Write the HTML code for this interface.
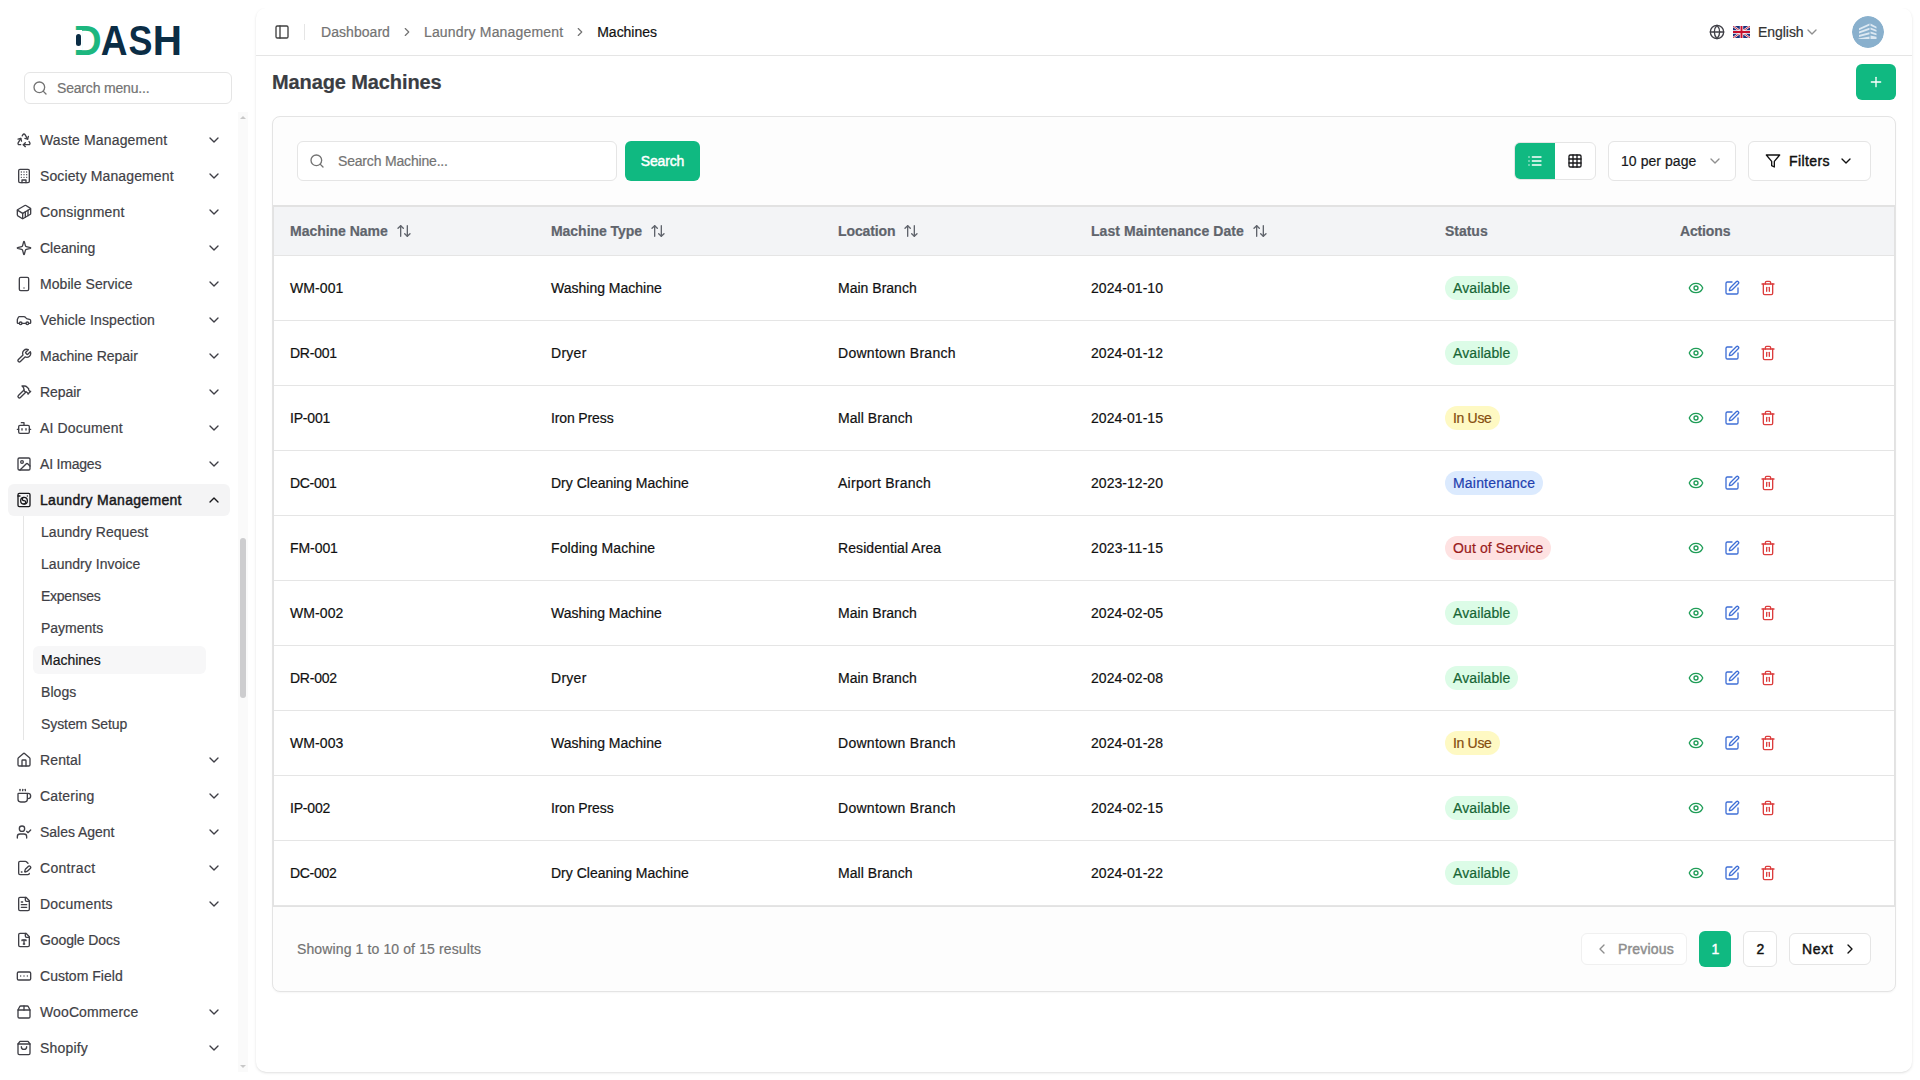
<!DOCTYPE html>
<html lang="en">
<head>
<meta charset="utf-8">
<title>Manage Machines</title>
<style>
*{box-sizing:border-box;margin:0;padding:0}
html,body{width:1920px;height:1080px;overflow:hidden;background:#fff;font-family:"Liberation Sans",sans-serif}
body{font-family:"Liberation Sans",sans-serif;font-size:14px;color:#111111;position:relative;-webkit-font-smoothing:antialiased;-webkit-text-stroke-width:.2px}
.ic{display:block;flex:none}
/* sidebar */
.sb{position:absolute;left:0;top:0;width:256px;height:1080px;background:#fff}
.logo{position:absolute;left:70px;top:20px;width:130px;height:40px;white-space:nowrap;font-weight:700;font-size:43px;line-height:40px;color:#0b2d45;-webkit-text-stroke-width:0}
.logo span{display:inline-block;transform-origin:0 50%;vertical-align:top;height:40px}
.logo i{position:absolute;z-index:1}
.logo .k{left:5px;top:10.2px;width:6.7px;height:19.8px;background:#fff}
.logo .p{left:6px;top:14.1px;width:5px;height:11.6px;border-radius:2.5px;background:#0b2d45}
.sbsearch{position:absolute;left:24px;top:72px;width:208px;height:32px;border:1px solid #e5e5e5;border-radius:6px;background:#fff;display:flex;align-items:center;color:#6b7280}
.sbsearch .ic{margin-left:7px;color:#737373}
.sbsearch span{margin-left:9px;font-size:14px;color:#737373}
.menu{position:absolute;left:0;top:0;width:240px;height:1080px;overflow:hidden}
.mi{position:absolute;left:8px;width:222px;height:32px;border-radius:6px;display:flex;align-items:center;color:#3f3f46}
.mi .mic{margin-left:8px}
.mi .ml{margin-left:8px;white-space:nowrap;flex:1}
.mi .chev{margin-right:8px}
.mi.act{background:#f4f4f5;color:#18181b}

.subline{position:absolute;left:23px;width:1px;background:#e5e5e5}
.si{position:absolute;left:33px;width:173px;height:28px;border-radius:6px;display:flex;align-items:center;color:#3f3f46}
.si span{margin-left:8px;white-space:nowrap}
.si.act{background:#f7f7f8;color:#18181b}
.scroll{position:absolute;left:238px;top:112px;width:10px;height:960px;background:#fafafa}
.scroll .thumb{position:absolute;left:2px;top:426px;width:6px;height:160px;background:#cdcdcf;border-radius:3px}
.scroll .up{position:absolute;left:2px;top:4px;border:3px solid transparent;border-bottom:3px solid #c8c8c8;border-top:0}
.scroll .dn{position:absolute;left:2px;bottom:4px;border:3px solid transparent;border-top:3px solid #c8c8c8;border-bottom:0}
/* main */
.main{position:absolute;left:256px;top:8px;width:1656px;height:1064px;background:#fff;border-radius:10px;box-shadow:0 1px 3px 0 rgba(0,0,0,.1),0 1px 2px -1px rgba(0,0,0,.1);clip-path:inset(0 -6px -6px -6px)}
.hd{position:absolute;left:0;top:0;width:1656px;height:48px;border-bottom:1px solid #e5e5e5}
.tog{position:absolute;left:18px;top:16px;color:#404040}
.sep{position:absolute;left:48px;top:16px;width:1px;height:16px;background:#e5e5e5}
.bc{position:absolute;left:65px;top:0;height:48px;display:flex;align-items:center;color:#737373;white-space:nowrap}
.bc .bcc{margin:0 10px;color:#737373}
.bc .b3{color:#111111}
.lang{position:absolute;left:1453px;top:16px;height:16px;display:flex;align-items:center;color:#27272a}
.lang .gl{color:#3f3f46}
.lang .flag{margin-left:8px}
.lang .lt{margin-left:8px;font-size:14px;color:#333;white-space:nowrap}
.lang .lc{color:#8f8f8f;margin-left:0}
.av{position:absolute;left:1596px;top:8px;width:32px;height:32px;border-radius:50%;overflow:hidden}
.ttl{position:absolute;left:16px;top:60px;font-size:20px;line-height:28px;font-weight:700;color:#3a3d43;white-space:nowrap}
.add{position:absolute;left:1600px;top:56px;width:40px;height:36px;border-radius:6px;background:#10b981;color:#fff;display:flex;align-items:center;justify-content:center}
.card{position:absolute;left:16px;top:108px;width:1624px;height:876px;border:1px solid #e4e4e4;border-radius:8px;background:#fdfdfd;box-shadow:0 1px 2px rgba(0,0,0,.04)}
.srch{position:absolute;left:24px;top:24px;width:320px;height:40px;border:1px solid #e5e5e5;border-radius:6px;background:#fff;display:flex;align-items:center;color:#6b7280}
.srch .ic{margin-left:11px;color:#737373}
.srch span{margin-left:13px;color:#737373}
.sbtn{position:absolute;left:352px;top:24px;width:75px;height:40px;border-radius:6px;background:#10b981;color:#fff;display:flex;align-items:center;justify-content:center}
.vt{position:absolute;left:1241px;top:25px;width:82px;height:38px;border:1px solid #e5e5e5;border-radius:6px;background:#fff;display:flex;overflow:hidden}
.vt span{width:40px;height:36px;display:flex;align-items:center;justify-content:center;color:#18181b}
.vt .v1{background:#10b981;color:#fff}
.pp{position:absolute;left:1335px;top:24px;width:128px;height:40px;border:1px solid #e5e5e5;border-radius:6px;background:#fff;display:flex;align-items:center;justify-content:space-between;padding:0 12px;color:#18181b}
.pp .ic{color:#8f8f8f}
.fl{position:absolute;left:1475px;top:24px;width:123px;height:40px;border:1px solid #e5e5e5;border-radius:6px;background:#fff;display:flex;align-items:center;padding:0 16px;color:#111}
.fl span{margin-left:8px;flex:1}
.tbl{position:absolute;left:0;top:88px;width:1622px;height:702px;border:1px solid #e2e2e2;background:#fff}
.th{position:relative;height:50px;background:#f3f4f6;border-bottom:1px solid #e5e5e5;border-top:1px solid #e2e2e2;font-weight:700;color:#60646c}
.tr{position:relative;height:65px;border-bottom:1px solid #e5e5e5;color:#111111}
.th>div,.tr>div{position:absolute;top:0;height:100%;display:flex;align-items:center;white-space:nowrap}
.c1{left:16px}.c2{left:277px}.c3{left:564px}.c4{left:817px}.c5{left:1171px}.c6{left:1406px}
.th .so{margin-left:8px;color:#60646c}
.bd{display:inline-flex;align-items:center;height:24px;padding:0 8px;border-radius:12px;font-size:14px}
.bd.g{background:#dcfce7;color:#166534}
.bd.y{background:#fef9c3;color:#854d0e}
.bd.b{background:#dbeafe;color:#1e40af}
.bd.r{background:#fee2e2;color:#991b1b}
.c6 .ae{color:#1f9d57;margin-left:8px}
.c6 .ad{color:#3f6fd6;margin-left:20px}
.c6 .at{color:#dc3d3d;margin-left:20px}
.ft{position:absolute;left:0;top:790px;width:1622px;height:85px}
.ft .res{position:absolute;left:24px;top:-1px;height:85px;display:flex;align-items:center;color:#737373;white-space:nowrap}
.pv,.nx,.p1,.p2{position:absolute;display:flex;align-items:center;justify-content:center;border-radius:6px}
.pv{left:1308px;top:26px;width:106px;height:32px;justify-content:flex-start;padding-left:12px;border:1px solid #f0f0f0;color:#8e8e8e;background:#fff}
.pv span{margin-left:8px}
.p1{left:1426px;top:24px;width:32px;height:36px;padding-left:1px;background:#10b981;color:#fff}
.p2{left:1470px;top:24px;width:34px;height:36px;padding-left:1px;border:1px solid #e5e5e5;background:#fff;color:#111}
.nx{left:1516px;top:26px;width:82px;height:32px;justify-content:flex-start;padding-left:12px;border:1px solid #e5e5e5;color:#111;background:#fff}
.nx span{margin-right:9px}
.md{font-weight:400;-webkit-text-stroke-width:.45px}
</style>
</head>
<body>
<aside class="sb">
<div class="logo"><span style="color:#1db77f;transform:translateX(3.33px) scaleX(.9137)">D</span><span style="transform:translateX(-.16px) scaleX(.8626)">A</span><span style="transform:translateX(-3.49px) scaleX(.835)">S</span><span style="transform:translateX(-8.27px) scaleX(.9426)">H</span><i class="k"></i><i class="p"></i></div>
<div class="sbsearch"><svg class="ic " width="16" height="16" viewBox="0 0 24 24" fill="none" stroke="currentColor" stroke-width="2" stroke-linecap="round" stroke-linejoin="round"><circle cx="11" cy="11" r="8"/><path d="m21 21-4.3-4.3"/></svg><span style="letter-spacing:-0.18px">Search menu...</span></div>
<nav class="menu">
<div class="mi" style="top:124px"><svg class="ic mic" width="16" height="16" viewBox="0 0 24 24" fill="none" stroke="currentColor" stroke-width="2" stroke-linecap="round" stroke-linejoin="round"><path d="M7 19H4.815a1.83 1.83 0 0 1-1.57-.881 1.785 1.785 0 0 1-.004-1.784L7.196 9.5"/><path d="M11 19h8.203a1.83 1.83 0 0 0 1.556-.89 1.784 1.784 0 0 0 0-1.775l-1.226-2.12"/><path d="m14 16-3 3 3 3"/><path d="M8.293 13.596 7.196 9.5 3.1 10.598"/><path d="m9.344 5.811 1.093-1.892A1.83 1.83 0 0 1 11.985 3a1.784 1.784 0 0 1 1.546.888l3.943 6.843"/><path d="m13.378 9.633 4.096 1.098 1.097-4.096"/></svg><span class="ml" style="letter-spacing:0.16px">Waste Management</span><svg class="ic chev" width="16" height="16" viewBox="0 0 24 24" fill="none" stroke="currentColor" stroke-width="2" stroke-linecap="round" stroke-linejoin="round"><path d="m6 9 6 6 6-6"/></svg></div>
<div class="mi" style="top:160px"><svg class="ic mic" width="16" height="16" viewBox="0 0 24 24" fill="none" stroke="currentColor" stroke-width="2" stroke-linecap="round" stroke-linejoin="round"><rect width="16" height="20" x="4" y="2" rx="2" ry="2"/><path d="M9 22v-4h6v4"/><path d="M8 6h.01"/><path d="M16 6h.01"/><path d="M12 6h.01"/><path d="M12 10h.01"/><path d="M12 14h.01"/><path d="M16 10h.01"/><path d="M16 14h.01"/><path d="M8 10h.01"/><path d="M8 14h.01"/></svg><span class="ml" style="letter-spacing:0.12px">Society Management</span><svg class="ic chev" width="16" height="16" viewBox="0 0 24 24" fill="none" stroke="currentColor" stroke-width="2" stroke-linecap="round" stroke-linejoin="round"><path d="m6 9 6 6 6-6"/></svg></div>
<div class="mi" style="top:196px"><svg class="ic mic" width="16" height="16" viewBox="0 0 24 24" fill="none" stroke="currentColor" stroke-width="2" stroke-linecap="round" stroke-linejoin="round"><path d="M22 7.7c0-.6-.4-1.200-.8-1.500l-6.300-3.900a1.720 1.720 0 0 0-1.700 0l-10.300 6c-.5.200-.9.800-.9 1.400v6.600c0 .5.400 1.200.8 1.500l6.300 3.900a1.720 1.720 0 0 0 1.700 0l10.300-6c.5-.3.900-1 .9-1.500Z"/><path d="M10 21.900V14L2.100 9.100"/><path d="m10 14 11.900-6.900"/><path d="M14 19.800v-8.100"/><path d="M18 17.500V9.400"/></svg><span class="ml" style="letter-spacing:0.18px">Consignment</span><svg class="ic chev" width="16" height="16" viewBox="0 0 24 24" fill="none" stroke="currentColor" stroke-width="2" stroke-linecap="round" stroke-linejoin="round"><path d="m6 9 6 6 6-6"/></svg></div>
<div class="mi" style="top:232px"><svg class="ic mic" width="16" height="16" viewBox="0 0 24 24" fill="none" stroke="currentColor" stroke-width="2" stroke-linecap="round" stroke-linejoin="round"><path d="M9.937 15.5A2 2 0 0 0 8.5 14.063l-6.135-1.582a.5.5 0 0 1 0-.962L8.5 9.936A2 2 0 0 0 9.937 8.5l1.582-6.135a.5.5 0 0 1 .963 0L14.063 8.5A2 2 0 0 0 15.5 9.937l6.135 1.581a.5.5 0 0 1 0 .964L15.5 14.063a2 2 0 0 0-1.437 1.437l-1.582 6.135a.5.5 0 0 1-.963 0z"/></svg><span class="ml">Cleaning</span><svg class="ic chev" width="16" height="16" viewBox="0 0 24 24" fill="none" stroke="currentColor" stroke-width="2" stroke-linecap="round" stroke-linejoin="round"><path d="m6 9 6 6 6-6"/></svg></div>
<div class="mi" style="top:268px"><svg class="ic mic" width="16" height="16" viewBox="0 0 24 24" fill="none" stroke="currentColor" stroke-width="2" stroke-linecap="round" stroke-linejoin="round"><rect width="14" height="20" x="5" y="2" rx="2" ry="2"/><path d="M12 18h.01"/></svg><span class="ml" style="letter-spacing:0.06px">Mobile Service</span><svg class="ic chev" width="16" height="16" viewBox="0 0 24 24" fill="none" stroke="currentColor" stroke-width="2" stroke-linecap="round" stroke-linejoin="round"><path d="m6 9 6 6 6-6"/></svg></div>
<div class="mi" style="top:304px"><svg class="ic mic" width="16" height="16" viewBox="0 0 24 24" fill="none" stroke="currentColor" stroke-width="2" stroke-linecap="round" stroke-linejoin="round"><path d="M19 17h2c.6 0 1-.4 1-1v-3c0-.9-.7-1.7-1.5-1.9C18.7 10.6 16 10 16 10s-1.3-1.4-2.2-2.3c-.5-.4-1.1-.7-1.8-.7H5c-.6 0-1.1.4-1.4.9l-1.4 2.9A3.7 3.7 0 0 0 2 12v4c0 .6.4 1 1 1h2"/><circle cx="7" cy="17" r="2"/><path d="M9 17h6"/><circle cx="17" cy="17" r="2"/></svg><span class="ml" style="letter-spacing:0.12px">Vehicle Inspection</span><svg class="ic chev" width="16" height="16" viewBox="0 0 24 24" fill="none" stroke="currentColor" stroke-width="2" stroke-linecap="round" stroke-linejoin="round"><path d="m6 9 6 6 6-6"/></svg></div>
<div class="mi" style="top:340px"><svg class="ic mic" width="16" height="16" viewBox="0 0 24 24" fill="none" stroke="currentColor" stroke-width="2" stroke-linecap="round" stroke-linejoin="round"><path d="M14.7 6.3a1 1 0 0 0 0 1.4l1.6 1.6a1 1 0 0 0 1.4 0l3.77-3.77a6 6 0 0 1-7.94 7.94l-6.91 6.91a2.12 2.12 0 0 1-3-3l6.91-6.91a6 6 0 0 1 7.94-7.94l-3.76 3.76z"/></svg><span class="ml" style="letter-spacing:-0.02px">Machine Repair</span><svg class="ic chev" width="16" height="16" viewBox="0 0 24 24" fill="none" stroke="currentColor" stroke-width="2" stroke-linecap="round" stroke-linejoin="round"><path d="m6 9 6 6 6-6"/></svg></div>
<div class="mi" style="top:376px"><svg class="ic mic" width="16" height="16" viewBox="0 0 24 24" fill="none" stroke="currentColor" stroke-width="2" stroke-linecap="round" stroke-linejoin="round"><path d="m15 12-8.373 8.373a1 1 0 1 1-3-3L12 9"/><path d="m18 15 4-4"/><path d="m21.5 11.5-1.914-1.914A2 2 0 0 1 19 8.172V7l-2.26-2.26a6 6 0 0 0-4.202-1.756L9 2.96l.92.82A6.18 6.18 0 0 1 12 8.4V10l2 2h1.172a2 2 0 0 1 1.414.586L18.5 14.5"/></svg><span class="ml" style="letter-spacing:-0.05px">Repair</span><svg class="ic chev" width="16" height="16" viewBox="0 0 24 24" fill="none" stroke="currentColor" stroke-width="2" stroke-linecap="round" stroke-linejoin="round"><path d="m6 9 6 6 6-6"/></svg></div>
<div class="mi" style="top:412px"><svg class="ic mic" width="16" height="16" viewBox="0 0 24 24" fill="none" stroke="currentColor" stroke-width="2" stroke-linecap="round" stroke-linejoin="round"><path d="M12 8V4H8"/><rect width="16" height="12" x="4" y="8" rx="2"/><path d="M2 14h2"/><path d="M20 14h2"/><path d="M15 13v2"/><path d="M9 13v2"/></svg><span class="ml" style="letter-spacing:0.16px">AI Document</span><svg class="ic chev" width="16" height="16" viewBox="0 0 24 24" fill="none" stroke="currentColor" stroke-width="2" stroke-linecap="round" stroke-linejoin="round"><path d="m6 9 6 6 6-6"/></svg></div>
<div class="mi" style="top:448px"><svg class="ic mic" width="16" height="16" viewBox="0 0 24 24" fill="none" stroke="currentColor" stroke-width="2" stroke-linecap="round" stroke-linejoin="round"><rect width="18" height="18" x="3" y="3" rx="2" ry="2"/><circle cx="9" cy="9" r="2"/><path d="m21 15-3.086-3.086a2 2 0 0 0-2.828 0L6 21"/></svg><span class="ml" style="letter-spacing:-0.2px">AI Images</span><svg class="ic chev" width="16" height="16" viewBox="0 0 24 24" fill="none" stroke="currentColor" stroke-width="2" stroke-linecap="round" stroke-linejoin="round"><path d="m6 9 6 6 6-6"/></svg></div>
<div class="mi act" style="top:484px"><svg class="ic mic" width="16" height="16" viewBox="0 0 24 24" fill="none" stroke="currentColor" stroke-width="2" stroke-linecap="round" stroke-linejoin="round"><path d="M3 6h3"/><path d="M17 6h.01"/><rect width="18" height="20" x="3" y="2" rx="2"/><circle cx="12" cy="13" r="5"/><path d="M12 18a2.5 2.5 0 0 0 0-5 2.5 2.5 0 0 1 0-5"/></svg><span class="ml md" style="letter-spacing:0.31px">Laundry Management</span><svg class="ic chev" width="16" height="16" viewBox="0 0 24 24" fill="none" stroke="currentColor" stroke-width="2" stroke-linecap="round" stroke-linejoin="round"><path d="m18 15-6-6-6 6"/></svg></div>
<div class="subline" style="top:516px;height:224px"></div>
<div class="si" style="top:518px"><span style="letter-spacing:0.04px">Laundry Request</span></div>
<div class="si" style="top:550px"><span style="letter-spacing:0.03px">Laundry Invoice</span></div>
<div class="si" style="top:582px"><span style="letter-spacing:-0.25px">Expenses</span></div>
<div class="si" style="top:614px"><span>Payments</span></div>
<div class="si act" style="top:646px"><span style="letter-spacing:-0.02px">Machines</span></div>
<div class="si" style="top:678px"><span style="letter-spacing:0.05px">Blogs</span></div>
<div class="si" style="top:710px"><span style="letter-spacing:-0.08px">System Setup</span></div>
<div class="mi" style="top:744px"><svg class="ic mic" width="16" height="16" viewBox="0 0 24 24" fill="none" stroke="currentColor" stroke-width="2" stroke-linecap="round" stroke-linejoin="round"><path d="M15 21v-8a1 1 0 0 0-1-1h-4a1 1 0 0 0-1 1v8"/><path d="M3 10a2 2 0 0 1 .709-1.528l7-5.999a2 2 0 0 1 2.582 0l7 5.999A2 2 0 0 1 21 10v9a2 2 0 0 1-2 2H5a2 2 0 0 1-2-2z"/></svg><span class="ml" style="letter-spacing:0.12px">Rental</span><svg class="ic chev" width="16" height="16" viewBox="0 0 24 24" fill="none" stroke="currentColor" stroke-width="2" stroke-linecap="round" stroke-linejoin="round"><path d="m6 9 6 6 6-6"/></svg></div>
<div class="mi" style="top:780px"><svg class="ic mic" width="16" height="16" viewBox="0 0 24 24" fill="none" stroke="currentColor" stroke-width="2" stroke-linecap="round" stroke-linejoin="round"><path d="M10 2v2"/><path d="M14 2v2"/><path d="M16 8a1 1 0 0 1 1 1v8a4 4 0 0 1-4 4H7a4 4 0 0 1-4-4V9a1 1 0 0 1 1-1h14a4 4 0 1 1 0 8h-1"/><path d="M6 2v2"/></svg><span class="ml" style="letter-spacing:0.18px">Catering</span><svg class="ic chev" width="16" height="16" viewBox="0 0 24 24" fill="none" stroke="currentColor" stroke-width="2" stroke-linecap="round" stroke-linejoin="round"><path d="m6 9 6 6 6-6"/></svg></div>
<div class="mi" style="top:816px"><svg class="ic mic" width="16" height="16" viewBox="0 0 24 24" fill="none" stroke="currentColor" stroke-width="2" stroke-linecap="round" stroke-linejoin="round"><path d="m16 11 2 2 4-4"/><path d="M16 21v-2a4 4 0 0 0-4-4H6a4 4 0 0 0-4 4v2"/><circle cx="9" cy="7" r="4"/></svg><span class="ml" style="letter-spacing:-0.03px">Sales Agent</span><svg class="ic chev" width="16" height="16" viewBox="0 0 24 24" fill="none" stroke="currentColor" stroke-width="2" stroke-linecap="round" stroke-linejoin="round"><path d="m6 9 6 6 6-6"/></svg></div>
<div class="mi" style="top:852px"><svg class="ic mic" width="16" height="16" viewBox="0 0 24 24" fill="none" stroke="currentColor" stroke-width="2" stroke-linecap="round" stroke-linejoin="round"><path d="m18 5-2.414-2.414A2 2 0 0 0 14.172 2H6a2 2 0 0 0-2 2v16a2 2 0 0 0 2 2h12a2 2 0 0 0 2-2"/><path d="M21.378 12.626a1 1 0 0 0-3.004-3.004l-4.010 4.012a2 2 0 0 0-.506.854l-.837 2.870a.5.500 0 0 0 .620.620l2.870-.837a2 2 0 0 0 .854-.506z"/><path d="M8 18h1"/></svg><span class="ml" style="letter-spacing:0.31px">Contract</span><svg class="ic chev" width="16" height="16" viewBox="0 0 24 24" fill="none" stroke="currentColor" stroke-width="2" stroke-linecap="round" stroke-linejoin="round"><path d="m6 9 6 6 6-6"/></svg></div>
<div class="mi" style="top:888px"><svg class="ic mic" width="16" height="16" viewBox="0 0 24 24" fill="none" stroke="currentColor" stroke-width="2" stroke-linecap="round" stroke-linejoin="round"><path d="M15 2H6a2 2 0 0 0-2 2v16a2 2 0 0 0 2 2h12a2 2 0 0 0 2-2V7Z"/><path d="M14 2v4a2 2 0 0 0 2 2h4"/><path d="M10 9H8"/><path d="M16 13H8"/><path d="M16 17H8"/></svg><span class="ml" style="letter-spacing:0.22px">Documents</span><svg class="ic chev" width="16" height="16" viewBox="0 0 24 24" fill="none" stroke="currentColor" stroke-width="2" stroke-linecap="round" stroke-linejoin="round"><path d="m6 9 6 6 6-6"/></svg></div>
<div class="mi" style="top:924px"><svg class="ic mic" width="16" height="16" viewBox="0 0 24 24" fill="none" stroke="currentColor" stroke-width="2" stroke-linecap="round" stroke-linejoin="round"><path d="M15 2H6a2 2 0 0 0-2 2v16a2 2 0 0 0 2 2h12a2 2 0 0 0 2-2V7Z"/><path d="M14 2v4a2 2 0 0 0 2 2h4"/><path d="M9 13v-1h6v1"/><path d="M12 12v6"/><path d="M11 18h2"/></svg><span class="ml" style="letter-spacing:-0.1px">Google Docs</span></div>
<div class="mi" style="top:960px"><svg class="ic mic" width="16" height="16" viewBox="0 0 24 24" fill="none" stroke="currentColor" stroke-width="2" stroke-linecap="round" stroke-linejoin="round"><rect width="20" height="12" x="2" y="6" rx="2"/><path d="M12 12h.01"/><path d="M17 12h.01"/><path d="M7 12h.01"/></svg><span class="ml" style="letter-spacing:0.02px">Custom Field</span></div>
<div class="mi" style="top:996px"><svg class="ic mic" width="16" height="16" viewBox="0 0 24 24" fill="none" stroke="currentColor" stroke-width="2" stroke-linecap="round" stroke-linejoin="round"><path d="M3 9h18v10a2 2 0 0 1-2 2H5a2 2 0 0 1-2-2V9Z"/><path d="m3 9 2.45-4.9A2 2 0 0 1 7.24 3h9.52a2 2 0 0 1 1.8 1.1L21 9"/><path d="M12 3v6"/></svg><span class="ml" style="letter-spacing:0.12px">WooCommerce</span><svg class="ic chev" width="16" height="16" viewBox="0 0 24 24" fill="none" stroke="currentColor" stroke-width="2" stroke-linecap="round" stroke-linejoin="round"><path d="m6 9 6 6 6-6"/></svg></div>
<div class="mi" style="top:1032px"><svg class="ic mic" width="16" height="16" viewBox="0 0 24 24" fill="none" stroke="currentColor" stroke-width="2" stroke-linecap="round" stroke-linejoin="round"><path d="M6 2 3 6v14a2 2 0 0 0 2 2h14a2 2 0 0 0 2-2V6l-3-4Z"/><path d="M3 6h18"/><path d="M16 10a4 4 0 0 1-8 0"/></svg><span class="ml" style="letter-spacing:0.19px">Shopify</span><svg class="ic chev" width="16" height="16" viewBox="0 0 24 24" fill="none" stroke="currentColor" stroke-width="2" stroke-linecap="round" stroke-linejoin="round"><path d="m6 9 6 6 6-6"/></svg></div>
</nav>
<div class="scroll"><i class="up"></i><i class="thumb"></i><i class="dn"></i></div>
</aside>
<main class="main">
<header class="hd">
<span class="tog"><svg class="ic " width="16" height="16" viewBox="0 0 24 24" fill="none" stroke="currentColor" stroke-width="2" stroke-linecap="round" stroke-linejoin="round"><rect width="18" height="18" x="3" y="3" rx="2"/><path d="M9 3v18"/></svg></span><i class="sep"></i>
<nav class="bc"><span class="b1" style="letter-spacing:0.05px">Dashboard</span><svg class="ic bcc" width="14" height="14" viewBox="0 0 24 24" fill="none" stroke="currentColor" stroke-width="2" stroke-linecap="round" stroke-linejoin="round"><path d="m9 18 6-6-6-6"/></svg><span class="b2" style="letter-spacing:0.17px">Laundry Management</span><svg class="ic bcc" width="14" height="14" viewBox="0 0 24 24" fill="none" stroke="currentColor" stroke-width="2" stroke-linecap="round" stroke-linejoin="round"><path d="m9 18 6-6-6-6"/></svg><span class="b3" style="letter-spacing:-0.02px">Machines</span></nav>
<div class="lang"><svg class="ic gl" width="16" height="16" viewBox="0 0 24 24" fill="none" stroke="currentColor" stroke-width="2" stroke-linecap="round" stroke-linejoin="round"><circle cx="12" cy="12" r="10"/><path d="M12 2a14.5 14.5 0 0 0 0 20 14.5 14.5 0 0 0 0-20"/><path d="M2 12h20"/></svg><svg class="flag" width="17" height="12" viewBox="0 0 60 40" preserveAspectRatio="none"><rect width="60" height="40" rx="3" fill="#1b2f7a"/><path d="M0 0L60 40M60 0L0 40" stroke="#fff" stroke-width="7"/><path d="M0 0L60 40M60 0L0 40" stroke="#c8102e" stroke-width="3"/><path d="M30 0V40M0 20H60" stroke="#fff" stroke-width="12"/><path d="M30 0V40M0 20H60" stroke="#c8102e" stroke-width="7"/></svg><span class="lt" style="letter-spacing:-0.05px">English</span><svg class="ic lc" width="16" height="16" viewBox="0 0 24 24" fill="none" stroke="currentColor" stroke-width="2" stroke-linecap="round" stroke-linejoin="round"><path d="m6 9 6 6 6-6"/></svg></div>
<svg class="av" viewBox="0 0 32 32"><circle cx="16" cy="16" r="16" fill="#89b0cd"/><g fill="#dce8f2"><path d="M7 12.2 17.5 7.6v2L7 14.2zM7 15.6l10.500-3.8v2L7 17.600zM7 19l10.500-2.800v2L7 21zM6.500 22.400l11-1.800v2.400h-11z"/><path d="M18.500 7.600 24.500 10.800v1.800l-6-2.800zM18.500 11.600l6 2.400v1.800l-6-2.200zM18.500 15.600l6 1.800v1.800l-6-1.600zM18.500 19.600l6 1.200v2.200h-6z"/></g></svg>
</header>
<h1 class="ttl"><span style="letter-spacing:-0.11px">Manage Machines</span></h1>
<div class="add"><svg class="ic " width="16" height="16" viewBox="0 0 24 24" fill="none" stroke="currentColor" stroke-width="2" stroke-linecap="round" stroke-linejoin="round"><path d="M5 12h14"/><path d="M12 5v14"/></svg></div>
<section class="card">
<div class="srch"><svg class="ic " width="16" height="16" viewBox="0 0 24 24" fill="none" stroke="currentColor" stroke-width="2" stroke-linecap="round" stroke-linejoin="round"><circle cx="11" cy="11" r="8"/><path d="m21 21-4.3-4.3"/></svg><span style="letter-spacing:-0.18px">Search Machine...</span></div>
<div class="sbtn"><span class="md" style="letter-spacing:-0.14px">Search</span></div>
<div class="vt"><span class="v1"><svg class="ic " width="16" height="16" viewBox="0 0 24 24" fill="none" stroke="currentColor" stroke-width="2" stroke-linecap="round" stroke-linejoin="round"><path d="M3 12h.01"/><path d="M3 18h.01"/><path d="M3 6h.01"/><path d="M8 12h13"/><path d="M8 18h13"/><path d="M8 6h13"/></svg></span><span class="v2"><svg class="ic " width="16" height="16" viewBox="0 0 24 24" fill="none" stroke="currentColor" stroke-width="2" stroke-linecap="round" stroke-linejoin="round"><rect width="18" height="18" x="3" y="3" rx="2"/><path d="M3 9h18"/><path d="M3 15h18"/><path d="M9 3v18"/><path d="M15 3v18"/></svg></span></div>
<div class="pp"><span style="letter-spacing:0.06px">10 per page</span><svg class="ic " width="16" height="16" viewBox="0 0 24 24" fill="none" stroke="currentColor" stroke-width="2" stroke-linecap="round" stroke-linejoin="round"><path d="m6 9 6 6 6-6"/></svg></div>
<div class="fl"><svg class="ic " width="16" height="16" viewBox="0 0 24 24" fill="none" stroke="currentColor" stroke-width="2" stroke-linecap="round" stroke-linejoin="round"><polygon points="22 3 2 3 10 12.46 10 19 14 21 14 12.46 22 3"/></svg><span class="md" style="letter-spacing:0.39px">Filters</span><svg class="ic " width="16" height="16" viewBox="0 0 24 24" fill="none" stroke="currentColor" stroke-width="2" stroke-linecap="round" stroke-linejoin="round"><path d="m6 9 6 6 6-6"/></svg></div>
<div class="tbl">
<div class="th">
<div class="c1"><span style="letter-spacing:-0.02px">Machine Name</span><svg class="ic so" width="16" height="16" viewBox="0 0 24 24" fill="none" stroke="currentColor" stroke-width="2" stroke-linecap="round" stroke-linejoin="round"><path d="m21 16-4 4-4-4"/><path d="M17 20V4"/><path d="m3 8 4-4 4 4"/><path d="M7 4v16"/></svg></div>
<div class="c2"><span style="letter-spacing:-0.04px">Machine Type</span><svg class="ic so" width="16" height="16" viewBox="0 0 24 24" fill="none" stroke="currentColor" stroke-width="2" stroke-linecap="round" stroke-linejoin="round"><path d="m21 16-4 4-4-4"/><path d="M17 20V4"/><path d="m3 8 4-4 4 4"/><path d="M7 4v16"/></svg></div>
<div class="c3"><span style="letter-spacing:-0.11px">Location</span><svg class="ic so" width="16" height="16" viewBox="0 0 24 24" fill="none" stroke="currentColor" stroke-width="2" stroke-linecap="round" stroke-linejoin="round"><path d="m21 16-4 4-4-4"/><path d="M17 20V4"/><path d="m3 8 4-4 4 4"/><path d="M7 4v16"/></svg></div>
<div class="c4"><span style="letter-spacing:0.05px">Last Maintenance Date</span><svg class="ic so" width="16" height="16" viewBox="0 0 24 24" fill="none" stroke="currentColor" stroke-width="2" stroke-linecap="round" stroke-linejoin="round"><path d="m21 16-4 4-4-4"/><path d="M17 20V4"/><path d="m3 8 4-4 4 4"/><path d="M7 4v16"/></svg></div>
<div class="c5"><span style="letter-spacing:-0.02px">Status</span></div>
<div class="c6"><span style="letter-spacing:-0.15px">Actions</span></div>
</div>
<div class="tr"><div class="c1"><span style="letter-spacing:0.09px">WM-001</span></div><div class="c2"><span>Washing Machine</span></div><div class="c3"><span style="letter-spacing:0.01px">Main Branch</span></div><div class="c4"><span style="letter-spacing:0.04px">2024-01-10</span></div><div class="c5"><span class="bd g"><span style="letter-spacing:0.1px">Available</span></span></div><div class="c6"><svg class="ic ae" width="16" height="16" viewBox="0 0 24 24" fill="none" stroke="currentColor" stroke-width="2" stroke-linecap="round" stroke-linejoin="round"><path d="M2.062 12.348a1 1 0 0 1 0-.696 10.75 10.75 0 0 1 19.876 0 1 1 0 0 1 0 .696 10.75 10.75 0 0 1-19.876 0"/><circle cx="12" cy="12" r="3"/></svg><svg class="ic ad" width="16" height="16" viewBox="0 0 24 24" fill="none" stroke="currentColor" stroke-width="2" stroke-linecap="round" stroke-linejoin="round"><path d="M12 3H5a2 2 0 0 0-2 2v14a2 2 0 0 0 2 2h14a2 2 0 0 0 2-2v-7"/><path d="M18.375 2.625a1 1 0 0 1 3 3l-9.013 9.014a2 2 0 0 1-.853.505l-2.873.84a.5.5 0 0 1-.62-.62l.84-2.873a2 2 0 0 1 .506-.852z"/></svg><svg class="ic at" width="16" height="16" viewBox="0 0 24 24" fill="none" stroke="currentColor" stroke-width="2" stroke-linecap="round" stroke-linejoin="round"><path d="M3 6h18"/><path d="M19 6v14c0 1-1 2-2 2H7c-1 0-2-1-2-2V6"/><path d="M8 6V4c0-1 1-2 2-2h4c1 0 2 1 2 2v2"/><path d="M10 11v6"/><path d="M14 11v6"/></svg></div></div>
<div class="tr"><div class="c1"><span style="letter-spacing:-0.24px">DR-001</span></div><div class="c2"><span style="letter-spacing:0.28px">Dryer</span></div><div class="c3"><span style="letter-spacing:0.28px">Downtown Branch</span></div><div class="c4"><span style="letter-spacing:0.04px">2024-01-12</span></div><div class="c5"><span class="bd g"><span style="letter-spacing:0.1px">Available</span></span></div><div class="c6"><svg class="ic ae" width="16" height="16" viewBox="0 0 24 24" fill="none" stroke="currentColor" stroke-width="2" stroke-linecap="round" stroke-linejoin="round"><path d="M2.062 12.348a1 1 0 0 1 0-.696 10.75 10.75 0 0 1 19.876 0 1 1 0 0 1 0 .696 10.75 10.75 0 0 1-19.876 0"/><circle cx="12" cy="12" r="3"/></svg><svg class="ic ad" width="16" height="16" viewBox="0 0 24 24" fill="none" stroke="currentColor" stroke-width="2" stroke-linecap="round" stroke-linejoin="round"><path d="M12 3H5a2 2 0 0 0-2 2v14a2 2 0 0 0 2 2h14a2 2 0 0 0 2-2v-7"/><path d="M18.375 2.625a1 1 0 0 1 3 3l-9.013 9.014a2 2 0 0 1-.853.505l-2.873.84a.5.5 0 0 1-.62-.62l.84-2.873a2 2 0 0 1 .506-.852z"/></svg><svg class="ic at" width="16" height="16" viewBox="0 0 24 24" fill="none" stroke="currentColor" stroke-width="2" stroke-linecap="round" stroke-linejoin="round"><path d="M3 6h18"/><path d="M19 6v14c0 1-1 2-2 2H7c-1 0-2-1-2-2V6"/><path d="M8 6V4c0-1 1-2 2-2h4c1 0 2 1 2 2v2"/><path d="M10 11v6"/><path d="M14 11v6"/></svg></div></div>
<div class="tr"><div class="c1"><span style="letter-spacing:-0.19px">IP-001</span></div><div class="c2"><span style="letter-spacing:-0.13px">Iron Press</span></div><div class="c3"><span style="letter-spacing:0.06px">Mall Branch</span></div><div class="c4"><span style="letter-spacing:0.04px">2024-01-15</span></div><div class="c5"><span class="bd y"><span style="letter-spacing:-0.32px">In Use</span></span></div><div class="c6"><svg class="ic ae" width="16" height="16" viewBox="0 0 24 24" fill="none" stroke="currentColor" stroke-width="2" stroke-linecap="round" stroke-linejoin="round"><path d="M2.062 12.348a1 1 0 0 1 0-.696 10.75 10.75 0 0 1 19.876 0 1 1 0 0 1 0 .696 10.75 10.75 0 0 1-19.876 0"/><circle cx="12" cy="12" r="3"/></svg><svg class="ic ad" width="16" height="16" viewBox="0 0 24 24" fill="none" stroke="currentColor" stroke-width="2" stroke-linecap="round" stroke-linejoin="round"><path d="M12 3H5a2 2 0 0 0-2 2v14a2 2 0 0 0 2 2h14a2 2 0 0 0 2-2v-7"/><path d="M18.375 2.625a1 1 0 0 1 3 3l-9.013 9.014a2 2 0 0 1-.853.505l-2.873.84a.5.5 0 0 1-.62-.62l.84-2.873a2 2 0 0 1 .506-.852z"/></svg><svg class="ic at" width="16" height="16" viewBox="0 0 24 24" fill="none" stroke="currentColor" stroke-width="2" stroke-linecap="round" stroke-linejoin="round"><path d="M3 6h18"/><path d="M19 6v14c0 1-1 2-2 2H7c-1 0-2-1-2-2V6"/><path d="M8 6V4c0-1 1-2 2-2h4c1 0 2 1 2 2v2"/><path d="M10 11v6"/><path d="M14 11v6"/></svg></div></div>
<div class="tr"><div class="c1"><span style="letter-spacing:-0.3px">DC-001</span></div><div class="c2"><span>Dry Cleaning Machine</span></div><div class="c3"><span style="letter-spacing:0.26px">Airport Branch</span></div><div class="c4"><span style="letter-spacing:0.04px">2023-12-20</span></div><div class="c5"><span class="bd b"><span style="letter-spacing:0.19px">Maintenance</span></span></div><div class="c6"><svg class="ic ae" width="16" height="16" viewBox="0 0 24 24" fill="none" stroke="currentColor" stroke-width="2" stroke-linecap="round" stroke-linejoin="round"><path d="M2.062 12.348a1 1 0 0 1 0-.696 10.75 10.75 0 0 1 19.876 0 1 1 0 0 1 0 .696 10.75 10.75 0 0 1-19.876 0"/><circle cx="12" cy="12" r="3"/></svg><svg class="ic ad" width="16" height="16" viewBox="0 0 24 24" fill="none" stroke="currentColor" stroke-width="2" stroke-linecap="round" stroke-linejoin="round"><path d="M12 3H5a2 2 0 0 0-2 2v14a2 2 0 0 0 2 2h14a2 2 0 0 0 2-2v-7"/><path d="M18.375 2.625a1 1 0 0 1 3 3l-9.013 9.014a2 2 0 0 1-.853.505l-2.873.84a.5.5 0 0 1-.62-.62l.84-2.873a2 2 0 0 1 .506-.852z"/></svg><svg class="ic at" width="16" height="16" viewBox="0 0 24 24" fill="none" stroke="currentColor" stroke-width="2" stroke-linecap="round" stroke-linejoin="round"><path d="M3 6h18"/><path d="M19 6v14c0 1-1 2-2 2H7c-1 0-2-1-2-2V6"/><path d="M8 6V4c0-1 1-2 2-2h4c1 0 2 1 2 2v2"/><path d="M10 11v6"/><path d="M14 11v6"/></svg></div></div>
<div class="tr"><div class="c1"><span style="letter-spacing:-0.07px">FM-001</span></div><div class="c2"><span style="letter-spacing:0.1px">Folding Machine</span></div><div class="c3"><span style="letter-spacing:0.08px">Residential Area</span></div><div class="c4"><span style="letter-spacing:0.15px">2023-11-15</span></div><div class="c5"><span class="bd r"><span style="letter-spacing:0.12px">Out of Service</span></span></div><div class="c6"><svg class="ic ae" width="16" height="16" viewBox="0 0 24 24" fill="none" stroke="currentColor" stroke-width="2" stroke-linecap="round" stroke-linejoin="round"><path d="M2.062 12.348a1 1 0 0 1 0-.696 10.75 10.75 0 0 1 19.876 0 1 1 0 0 1 0 .696 10.75 10.75 0 0 1-19.876 0"/><circle cx="12" cy="12" r="3"/></svg><svg class="ic ad" width="16" height="16" viewBox="0 0 24 24" fill="none" stroke="currentColor" stroke-width="2" stroke-linecap="round" stroke-linejoin="round"><path d="M12 3H5a2 2 0 0 0-2 2v14a2 2 0 0 0 2 2h14a2 2 0 0 0 2-2v-7"/><path d="M18.375 2.625a1 1 0 0 1 3 3l-9.013 9.014a2 2 0 0 1-.853.505l-2.873.84a.5.5 0 0 1-.62-.62l.84-2.873a2 2 0 0 1 .506-.852z"/></svg><svg class="ic at" width="16" height="16" viewBox="0 0 24 24" fill="none" stroke="currentColor" stroke-width="2" stroke-linecap="round" stroke-linejoin="round"><path d="M3 6h18"/><path d="M19 6v14c0 1-1 2-2 2H7c-1 0-2-1-2-2V6"/><path d="M8 6V4c0-1 1-2 2-2h4c1 0 2 1 2 2v2"/><path d="M10 11v6"/><path d="M14 11v6"/></svg></div></div>
<div class="tr"><div class="c1"><span style="letter-spacing:0.09px">WM-002</span></div><div class="c2"><span>Washing Machine</span></div><div class="c3"><span style="letter-spacing:0.01px">Main Branch</span></div><div class="c4"><span style="letter-spacing:0.04px">2024-02-05</span></div><div class="c5"><span class="bd g"><span style="letter-spacing:0.1px">Available</span></span></div><div class="c6"><svg class="ic ae" width="16" height="16" viewBox="0 0 24 24" fill="none" stroke="currentColor" stroke-width="2" stroke-linecap="round" stroke-linejoin="round"><path d="M2.062 12.348a1 1 0 0 1 0-.696 10.75 10.75 0 0 1 19.876 0 1 1 0 0 1 0 .696 10.75 10.75 0 0 1-19.876 0"/><circle cx="12" cy="12" r="3"/></svg><svg class="ic ad" width="16" height="16" viewBox="0 0 24 24" fill="none" stroke="currentColor" stroke-width="2" stroke-linecap="round" stroke-linejoin="round"><path d="M12 3H5a2 2 0 0 0-2 2v14a2 2 0 0 0 2 2h14a2 2 0 0 0 2-2v-7"/><path d="M18.375 2.625a1 1 0 0 1 3 3l-9.013 9.014a2 2 0 0 1-.853.505l-2.873.84a.5.5 0 0 1-.62-.62l.84-2.873a2 2 0 0 1 .506-.852z"/></svg><svg class="ic at" width="16" height="16" viewBox="0 0 24 24" fill="none" stroke="currentColor" stroke-width="2" stroke-linecap="round" stroke-linejoin="round"><path d="M3 6h18"/><path d="M19 6v14c0 1-1 2-2 2H7c-1 0-2-1-2-2V6"/><path d="M8 6V4c0-1 1-2 2-2h4c1 0 2 1 2 2v2"/><path d="M10 11v6"/><path d="M14 11v6"/></svg></div></div>
<div class="tr"><div class="c1"><span style="letter-spacing:-0.24px">DR-002</span></div><div class="c2"><span style="letter-spacing:0.28px">Dryer</span></div><div class="c3"><span style="letter-spacing:0.01px">Main Branch</span></div><div class="c4"><span style="letter-spacing:0.04px">2024-02-08</span></div><div class="c5"><span class="bd g"><span style="letter-spacing:0.1px">Available</span></span></div><div class="c6"><svg class="ic ae" width="16" height="16" viewBox="0 0 24 24" fill="none" stroke="currentColor" stroke-width="2" stroke-linecap="round" stroke-linejoin="round"><path d="M2.062 12.348a1 1 0 0 1 0-.696 10.75 10.75 0 0 1 19.876 0 1 1 0 0 1 0 .696 10.75 10.75 0 0 1-19.876 0"/><circle cx="12" cy="12" r="3"/></svg><svg class="ic ad" width="16" height="16" viewBox="0 0 24 24" fill="none" stroke="currentColor" stroke-width="2" stroke-linecap="round" stroke-linejoin="round"><path d="M12 3H5a2 2 0 0 0-2 2v14a2 2 0 0 0 2 2h14a2 2 0 0 0 2-2v-7"/><path d="M18.375 2.625a1 1 0 0 1 3 3l-9.013 9.014a2 2 0 0 1-.853.505l-2.873.84a.5.5 0 0 1-.62-.62l.84-2.873a2 2 0 0 1 .506-.852z"/></svg><svg class="ic at" width="16" height="16" viewBox="0 0 24 24" fill="none" stroke="currentColor" stroke-width="2" stroke-linecap="round" stroke-linejoin="round"><path d="M3 6h18"/><path d="M19 6v14c0 1-1 2-2 2H7c-1 0-2-1-2-2V6"/><path d="M8 6V4c0-1 1-2 2-2h4c1 0 2 1 2 2v2"/><path d="M10 11v6"/><path d="M14 11v6"/></svg></div></div>
<div class="tr"><div class="c1"><span style="letter-spacing:0.09px">WM-003</span></div><div class="c2"><span>Washing Machine</span></div><div class="c3"><span style="letter-spacing:0.28px">Downtown Branch</span></div><div class="c4"><span style="letter-spacing:0.04px">2024-01-28</span></div><div class="c5"><span class="bd y"><span style="letter-spacing:-0.32px">In Use</span></span></div><div class="c6"><svg class="ic ae" width="16" height="16" viewBox="0 0 24 24" fill="none" stroke="currentColor" stroke-width="2" stroke-linecap="round" stroke-linejoin="round"><path d="M2.062 12.348a1 1 0 0 1 0-.696 10.75 10.75 0 0 1 19.876 0 1 1 0 0 1 0 .696 10.75 10.75 0 0 1-19.876 0"/><circle cx="12" cy="12" r="3"/></svg><svg class="ic ad" width="16" height="16" viewBox="0 0 24 24" fill="none" stroke="currentColor" stroke-width="2" stroke-linecap="round" stroke-linejoin="round"><path d="M12 3H5a2 2 0 0 0-2 2v14a2 2 0 0 0 2 2h14a2 2 0 0 0 2-2v-7"/><path d="M18.375 2.625a1 1 0 0 1 3 3l-9.013 9.014a2 2 0 0 1-.853.505l-2.873.84a.5.5 0 0 1-.62-.62l.84-2.873a2 2 0 0 1 .506-.852z"/></svg><svg class="ic at" width="16" height="16" viewBox="0 0 24 24" fill="none" stroke="currentColor" stroke-width="2" stroke-linecap="round" stroke-linejoin="round"><path d="M3 6h18"/><path d="M19 6v14c0 1-1 2-2 2H7c-1 0-2-1-2-2V6"/><path d="M8 6V4c0-1 1-2 2-2h4c1 0 2 1 2 2v2"/><path d="M10 11v6"/><path d="M14 11v6"/></svg></div></div>
<div class="tr"><div class="c1"><span style="letter-spacing:-0.19px">IP-002</span></div><div class="c2"><span style="letter-spacing:-0.13px">Iron Press</span></div><div class="c3"><span style="letter-spacing:0.28px">Downtown Branch</span></div><div class="c4"><span style="letter-spacing:0.04px">2024-02-15</span></div><div class="c5"><span class="bd g"><span style="letter-spacing:0.1px">Available</span></span></div><div class="c6"><svg class="ic ae" width="16" height="16" viewBox="0 0 24 24" fill="none" stroke="currentColor" stroke-width="2" stroke-linecap="round" stroke-linejoin="round"><path d="M2.062 12.348a1 1 0 0 1 0-.696 10.75 10.75 0 0 1 19.876 0 1 1 0 0 1 0 .696 10.75 10.75 0 0 1-19.876 0"/><circle cx="12" cy="12" r="3"/></svg><svg class="ic ad" width="16" height="16" viewBox="0 0 24 24" fill="none" stroke="currentColor" stroke-width="2" stroke-linecap="round" stroke-linejoin="round"><path d="M12 3H5a2 2 0 0 0-2 2v14a2 2 0 0 0 2 2h14a2 2 0 0 0 2-2v-7"/><path d="M18.375 2.625a1 1 0 0 1 3 3l-9.013 9.014a2 2 0 0 1-.853.505l-2.873.84a.5.5 0 0 1-.62-.62l.84-2.873a2 2 0 0 1 .506-.852z"/></svg><svg class="ic at" width="16" height="16" viewBox="0 0 24 24" fill="none" stroke="currentColor" stroke-width="2" stroke-linecap="round" stroke-linejoin="round"><path d="M3 6h18"/><path d="M19 6v14c0 1-1 2-2 2H7c-1 0-2-1-2-2V6"/><path d="M8 6V4c0-1 1-2 2-2h4c1 0 2 1 2 2v2"/><path d="M10 11v6"/><path d="M14 11v6"/></svg></div></div>
<div class="tr"><div class="c1"><span style="letter-spacing:-0.3px">DC-002</span></div><div class="c2"><span>Dry Cleaning Machine</span></div><div class="c3"><span style="letter-spacing:0.06px">Mall Branch</span></div><div class="c4"><span style="letter-spacing:0.04px">2024-01-22</span></div><div class="c5"><span class="bd g"><span style="letter-spacing:0.1px">Available</span></span></div><div class="c6"><svg class="ic ae" width="16" height="16" viewBox="0 0 24 24" fill="none" stroke="currentColor" stroke-width="2" stroke-linecap="round" stroke-linejoin="round"><path d="M2.062 12.348a1 1 0 0 1 0-.696 10.75 10.75 0 0 1 19.876 0 1 1 0 0 1 0 .696 10.75 10.75 0 0 1-19.876 0"/><circle cx="12" cy="12" r="3"/></svg><svg class="ic ad" width="16" height="16" viewBox="0 0 24 24" fill="none" stroke="currentColor" stroke-width="2" stroke-linecap="round" stroke-linejoin="round"><path d="M12 3H5a2 2 0 0 0-2 2v14a2 2 0 0 0 2 2h14a2 2 0 0 0 2-2v-7"/><path d="M18.375 2.625a1 1 0 0 1 3 3l-9.013 9.014a2 2 0 0 1-.853.505l-2.873.84a.5.5 0 0 1-.62-.62l.84-2.873a2 2 0 0 1 .506-.852z"/></svg><svg class="ic at" width="16" height="16" viewBox="0 0 24 24" fill="none" stroke="currentColor" stroke-width="2" stroke-linecap="round" stroke-linejoin="round"><path d="M3 6h18"/><path d="M19 6v14c0 1-1 2-2 2H7c-1 0-2-1-2-2V6"/><path d="M8 6V4c0-1 1-2 2-2h4c1 0 2 1 2 2v2"/><path d="M10 11v6"/><path d="M14 11v6"/></svg></div></div>
</div>
<div class="ft"><span class="res" style="letter-spacing:0.12px">Showing 1 to 10 of 15 results</span>
<div class="pv"><svg class="ic " width="16" height="16" viewBox="0 0 24 24" fill="none" stroke="currentColor" stroke-width="2" stroke-linecap="round" stroke-linejoin="round"><path d="m15 18-6-6 6-6"/></svg><span class="md" style="letter-spacing:0.18px">Previous</span></div><div class="p1"><span class="md" style="letter-spacing:0.2px">1</span></div><div class="p2"><span class="md" style="letter-spacing:0.2px">2</span></div><div class="nx"><span class="md" style="letter-spacing:0.66px">Next</span><svg class="ic " width="16" height="16" viewBox="0 0 24 24" fill="none" stroke="currentColor" stroke-width="2" stroke-linecap="round" stroke-linejoin="round"><path d="m9 18 6-6-6-6"/></svg></div></div>
</section>
</main>
</body>
</html>
